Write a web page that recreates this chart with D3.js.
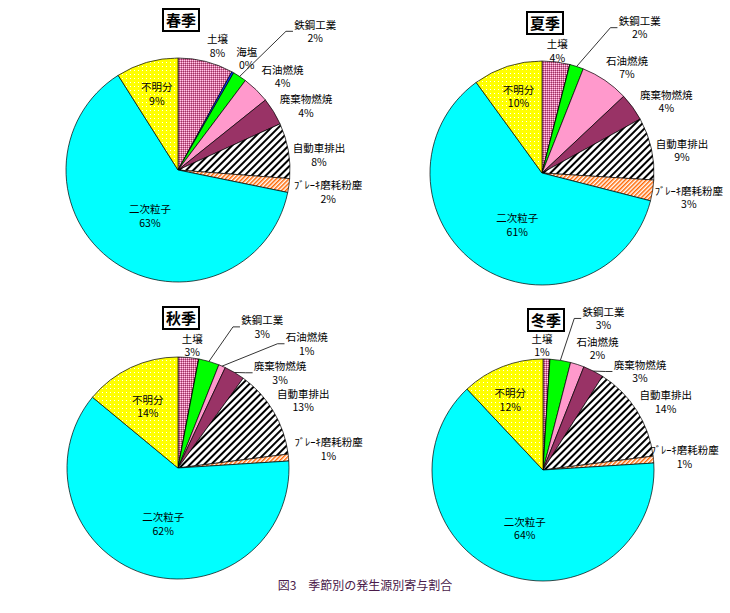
<!DOCTYPE html>
<meta charset="utf-8" />
<style>
  body {
    margin: 0;
    background: #fff;
    font-family: "Noto Sans CJK JP", sans-serif;
  }
</style>
<div id="container"></div>

<script src="https://d3js.org/d3.v7.min.js"></script>
<script>
  // DATA
  const sources = ["土壌", "海塩", "鉄鋼工業", "石油燃焼", "廃棄物燃焼", "自動車排出", "ﾌﾞﾚｰｷ磨耗粉塵", "二次粒子", "不明分"];
  const seasons = ["春季", "夏季", "秋季", "冬季"];
  const spring = [8, 0.3, 2, 4, 4, 8, 2, 63, 9];
  const summer = [4, 0, 2, 7, 4, 9, 3, 61, 10];
  const autumn = [3, 0, 3, 1, 3, 13, 1, 62, 14];
  const winter = [1, 0, 3, 2, 3, 14, 1, 64, 12];
  const caption = "図3　季節別の発生源別寄与割合";

  // LAYOUT (label nudges are offsets from the automatic position)
  const layouts = [
    { cx: 178, cy: 170, r: 112, leaders: [2],
      nudge: [[7, 3], [4, 4], [61, -23], [7, 7], [4, 12], [-1, 10], [0, 1], [5, -2], [0, -3]] },
    { cx: 542, cy: 173, r: 112, leaders: [2],
      nudge: [[-1, 7], [0, 0], [56, -17], [7, 9], [7, 14], [-1, 9], [-3, 1], [8, 4], [0, -4]] },
    { cx: 178, cy: 468, r: 111, leaders: [2, 3, 4],
      nudge: [[2, 6], [0, 0], [47, -13], [75, 0], [31, 25], [1, 6], [1, -5], [3, 1], [2, 7]] },
    { cx: 543, cy: 470, r: 111, leaders: [2, 4],
      nudge: [[-5, 4], [0, 0], [40, -22], [13, 6], [34, 25], [1, 9], [-8, 1], [3, 5], [-5, 0]] },
  ];
  const insideK = { 7: 0.52, 8: 0.68 }; // labels drawn inside the pie
  const colors = ["url(#soil)", "#0033ff", "#00ff00", "#ff99cc", "#993366",
    "url(#auto)", "url(#brake)", "#00ffff", "url(#unknown)"];
  const lineGap = 13.5;

  const width = 730, height = 613;
  const svg = d3.select("#container").append("svg")
    .attr("width", width).attr("height", height);

  // PATTERNS
  const defs = svg.append("defs");
  const soil = defs.append("pattern").attr("id", "soil")
    .attr("patternUnits", "userSpaceOnUse").attr("width", 2).attr("height", 2);
  soil.append("rect").attr("width", 2).attr("height", 2).attr("fill", "#d9739f");
  soil.append("rect").attr("width", 1).attr("height", 1).attr("fill", "#ffccee");
  soil.append("rect").attr("x", 1).attr("y", 1).attr("width", 1).attr("height", 1).attr("fill", "#993366");

  const unknown = defs.append("pattern").attr("id", "unknown")
    .attr("patternUnits", "userSpaceOnUse").attr("width", 4).attr("height", 4);
  unknown.append("rect").attr("width", 4).attr("height", 4).attr("fill", "#ffff00");
  unknown.append("rect").attr("width", 1).attr("height", 1).attr("fill", "#ffffff");

  const auto = defs.append("pattern").attr("id", "auto")
    .attr("patternUnits", "userSpaceOnUse").attr("width", 5).attr("height", 5)
    .attr("patternTransform", "rotate(45)");
  auto.append("rect").attr("width", 5).attr("height", 5).attr("fill", "#fff");
  auto.append("rect").attr("width", 2).attr("height", 5).attr("fill", "#000");

  const brake = defs.append("pattern").attr("id", "brake")
    .attr("patternUnits", "userSpaceOnUse").attr("width", 3).attr("height", 3)
    .attr("patternTransform", "rotate(45)");
  brake.append("rect").attr("width", 3).attr("height", 3).attr("fill", "#fff");
  brake.append("rect").attr("width", 1.5).attr("height", 3).attr("fill", "#ff6600");

  const pie = d3.pie().sort(null).value((d) => d);

  function drawPie(values, title, lay) {
    const g = svg.append("g")
      .attr("transform", "translate(" + lay.cx + "," + lay.cy + ")");
    const arc = d3.arc().innerRadius(0).outerRadius(lay.r);
    const arcs = pie(values);

    g.selectAll("path.slice")
      .data(arcs)
      .join("path")
      .attr("class", "slice")
      .attr("d", arc)
      .attr("fill", (d, i) => colors[i])
      .attr("stroke", "#000")
      .attr("stroke-width", 0.7);

    // LABELS
    arcs.forEach(function (d, i) {
      if (d.value <= 0) return;
      const mid = (d.startAngle + d.endAngle) / 2;
      const s = Math.sin(mid), c = Math.cos(mid);
      const t = g.append("text")
        .attr("text-anchor", "middle")
        .style("font-size", "10.5px")
        .attr("fill", "#000");
      t.append("tspan").attr("x", 0).attr("y", -lineGap / 2 + 4).text(sources[i]);
      t.append("tspan").attr("x", 0).attr("y", lineGap / 2 + 4).text(Math.round(d.value) + "%");
      const w = t.node().getBBox().width / 2;
      let x, y;
      if (insideK[i]) {
        x = s * lay.r * insideK[i];
        y = -c * lay.r * insideK[i];
      } else {
        const dist = lay.r + 4 + w * Math.abs(s) + 13 * Math.abs(c);
        x = s * dist;
        y = -c * dist;
      }
      x += lay.nudge[i][0];
      y += lay.nudge[i][1];
      t.attr("transform", "translate(" + x + "," + y + ")");

      if (lay.leaders.includes(i)) {
        const left = x - w - 1;
        g.append("polyline")
          .attr("points", [[s * lay.r, -c * lay.r], [left - 7, y], [left, y]].join(" "))
          .attr("fill", "none")
          .attr("stroke", "#000")
          .attr("stroke-width", 0.8);
      }
    });

    // TITLE BOX
    g.append("rect")
      .attr("x", -15).attr("y", -161)
      .attr("width", 36).attr("height", 22)
      .attr("fill", "#fff")
      .attr("stroke", "#000")
      .attr("stroke-width", 2);
    g.append("text")
      .attr("x", 3).attr("y", -144)
      .attr("text-anchor", "middle")
      .style("font-size", "15px")
      .style("font-weight", "bold")
      .text(title);
  }

  [spring, summer, autumn, winter].forEach((v, i) => drawPie(v, seasons[i], layouts[i]));

  svg.append("text")
    .attr("x", 365).attr("y", 590)
    .attr("text-anchor", "middle")
    .style("font-size", "12px")
    .attr("fill", "#4a1a4a")
    .text(caption);
</script>
